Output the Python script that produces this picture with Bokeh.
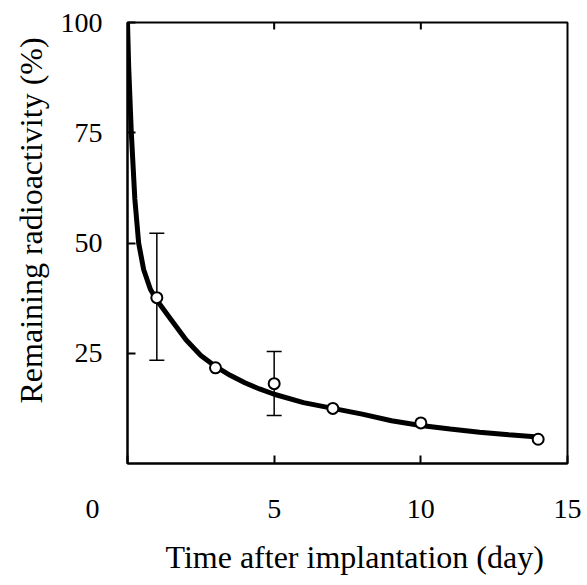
from bokeh.plotting import figure
from bokeh.models import (FixedTicker, Whisker, TeeHead, Title,
                          ColumnDataSource, Range1d)
from bokeh.embed import file_html
from bokeh.resources import INLINE

# Measured points (day, % remaining)
days = [1.0, 3.0, 5.0, 7.0, 10.0, 14.0]
remaining = [37.6, 21.7, 18.1, 12.5, 9.2, 5.5]

# Error bars (only shown at day 1 and day 5)
err_days = [1.0, 5.0]
err_low = [23.4, 10.9]
err_high = [52.2, 25.4]

# Fitted curve
curve_days = [0.0, 0.04, 0.13, 0.25, 0.38, 0.55, 0.78, 1.0, 1.5, 2.0, 2.5, 3.0,
              3.5, 4.0, 4.5, 5.0, 6.0, 7.0, 8.0, 9.0, 10.0, 11.0, 12.0, 13.0, 14.0]
curve_vals = [100.0, 90.0, 75.0, 60.0, 50.0, 44.0, 39.5, 37.0, 32.5, 28.0, 24.5, 22.0,
              20.0, 18.3, 16.9, 15.7, 13.8, 12.5, 11.2, 9.7, 8.6, 7.8, 7.1, 6.5, 6.0]

x_ticks = [0, 5, 10, 15]
x_top_ticks = [5, 10]
y_ticks = [25, 50, 75, 100]

FONT = "Liberation Serif"
FS = "\u2007"  # figure space, used to set the origin "0" off to the left

p = figure(width=587, height=585, output_backend="svg", toolbar_location=None,
           x_range=Range1d(0, 15), y_range=Range1d(0, 100),
           min_border_left=127, min_border_right=20, min_border_top=22,
           min_border_bottom=122, background_fill_color="white",
           border_fill_color="white")

p.xgrid.visible = False
p.ygrid.visible = False
p.outline_line_color = "black"
p.outline_line_width = 2
p.outline_line_alpha = 1.0

# bottom axis
xa = p.xaxis[0]
xa.ticker = FixedTicker(ticks=x_ticks)
xa.major_label_overrides = {0: "0" + FS * 5}
xa.minor_tick_line_color = None
xa.major_tick_in = 8
xa.major_tick_out = 0
xa.major_tick_line_width = 2
xa.axis_line_width = 2
xa.major_label_standoff = 29
xa.major_label_text_font = FONT
xa.major_label_text_font_size = "28px"
xa.major_label_text_color = "black"

# left axis
ya = p.yaxis[0]
ya.ticker = FixedTicker(ticks=y_ticks)
ya.minor_tick_line_color = None
ya.major_tick_in = 8
ya.major_tick_out = 0
ya.major_tick_line_width = 2
ya.axis_line_width = 2
ya.major_label_standoff = 25
ya.major_label_text_font = FONT
ya.major_label_text_font_size = "28px"
ya.major_label_text_color = "black"

# axis titles (as titles so they can be shifted like in the original)
p.add_layout(Title(text="Time after implantation (day)", align="left", offset=38,
                   standoff=20, text_font=FONT, text_font_size="32px",
                   text_font_style="normal", text_color="black"), "below")
p.add_layout(Title(text="Remaining radioactivity (%)", align="left", offset=60,
                   standoff=18, text_font=FONT, text_font_size="32px",
                   text_font_style="normal", text_color="black"), "left")

# inward ticks on the top edge (half of each dash is clipped by the frame)
p.scatter(x_top_ticks, [100] * len(x_top_ticks), marker="dash", angle=1.5708,
          size=14, line_color="black", line_width=2)

# curve
p.line(curve_days, curve_vals, line_color="black", line_width=5)

# error bars
esrc = ColumnDataSource(dict(x=err_days, lo=err_low, hi=err_high))
p.add_layout(Whisker(source=esrc, base="x", lower="lo", upper="hi",
                     line_color="black", line_width=1.5,
                     upper_head=TeeHead(size=15, line_color="black", line_width=1.5),
                     lower_head=TeeHead(size=15, line_color="black", line_width=1.5)))

# data points
p.scatter(days, remaining, marker="circle", size=11, fill_color="white",
          line_color="black", line_width=2)

open("out.html", "w").write(file_html(p, INLINE))
